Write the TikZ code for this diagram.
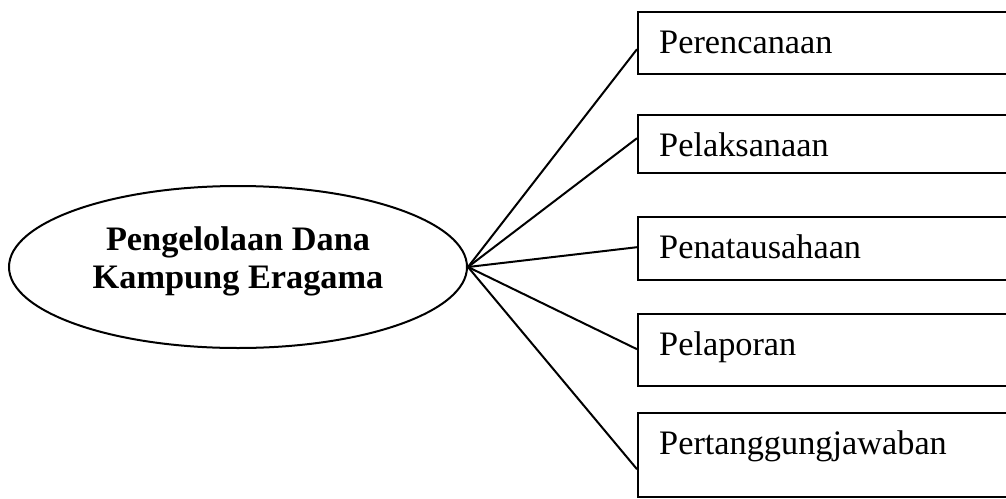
\documentclass[tikz,border=0pt]{standalone}
\usepackage{fontspec}
\setmainfont{Liberation Serif}
\usetikzlibrary{shapes.geometric}

\begin{document}
\begin{tikzpicture}[x=1pt,y=-1pt]
		\tikzstyle{every node}+=[inner sep=0pt]
		\tikzstyle{kotak}=[draw, line width=2.4pt, anchor=north west, minimum width=373pt, text width=331pt, inner xsep=21pt, align=left, text height=41pt, font=\fontsize{34.3}{38}\selectfont]
		\tikzstyle{garis}=[line width=2pt]
		\useasboundingbox (0,0) rectangle (1006,498);
		\node [draw, ellipse, line width=2pt, minimum width=458pt, minimum height=162pt, align=center, text depth=19pt, font=\bfseries\fontsize{34.3}{38}\selectfont] (dana) at (238,267) {Pengelolaan Dana\\Kampung Eragama};
		\node [kotak, text depth=21pt] (b1) at (637,11) {Perencanaan};
		\node [kotak, text depth=17pt] (b2) at (637,114) {Pelaksanaan};
		\node [kotak, text depth=22pt] (b3) at (637,216) {Penatausahaan};
		\node [kotak, text depth=31pt] (b4) at (637,313) {Pelaporan};
		\node [kotak, text depth=43pt] (b5) at (637,412) {Pertanggungjawaban};
		\draw [garis] (dana.east) -- ([yshift=-6pt]b1.west);
		\draw [garis] (dana.east) -- ([yshift=6pt]b2.west);
		\draw [garis] (dana.east) -- ([yshift=1.5pt]b3.west);
		\draw [garis] (dana.east) -- ([yshift=1pt]b4.west);
		\draw [garis] (dana.east) -- ([yshift=-14pt]b5.west);
\end{tikzpicture}
\end{document}
